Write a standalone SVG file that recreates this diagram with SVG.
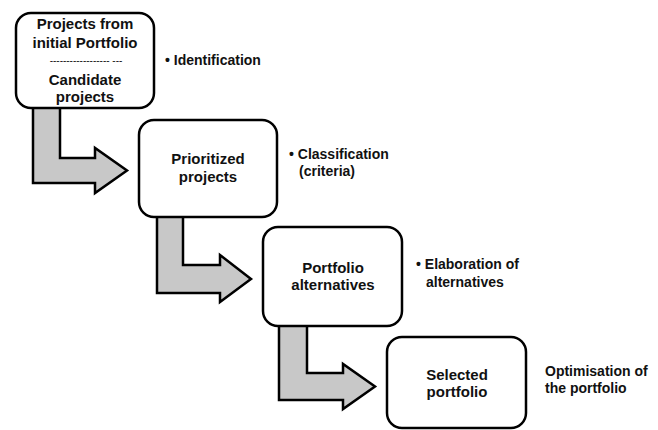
<svg xmlns="http://www.w3.org/2000/svg" width="658" height="430" viewBox="0 0 658 430">
  <style>
    .box { fill: #ffffff; stroke: #000000; stroke-width: 2.5; }
    .arrow { fill: #c8c8c8; stroke: #000000; stroke-width: 2.5; stroke-linejoin: miter; }
    .t { font-family: "Liberation Sans", Arial, sans-serif; font-weight: bold; font-size: 15px; fill: #111111; text-anchor: middle; }
    .s { font-family: "Liberation Sans", Arial, sans-serif; font-weight: bold; font-size: 14px; fill: #111111; }
    .dash { font-family: "Liberation Sans", Arial, sans-serif; font-size: 10px; fill: #111111; text-anchor: middle; }
  </style>
  <rect width="658" height="430" fill="#ffffff"/>
  <g id="connectors">
    <polygon class="arrow" points="33,107 60,107 60,158 95,158 95,148 127,170.5 95,193 95,183 33,183"/>
    <polygon class="arrow" points="157,216 183,216 183,265 220,265 220,255 251,279 220,302 220,293 157,293"/>
    <polygon class="arrow" points="279,325 307,325 307,373 343,373 343,364 375,386.5 343,409 343,400 279,400"/>
  </g>
  <g id="node-candidate">
    <rect class="box" x="16" y="13" width="138" height="95" rx="15" ry="15"/>
    <text class="t" x="85" y="29">Projects from</text>
    <text class="t" x="85" y="48">initial Portfolio</text>
    <text class="dash" x="86" y="64">------------------ ---</text>
    <text class="t" x="85" y="85">Candidate</text>
    <text class="t" x="85" y="102">projects</text>
  </g>
  <g id="node-prioritized">
    <rect class="box" x="139" y="120" width="138" height="97" rx="15" ry="15"/>
    <text class="t" x="208" y="164">Prioritized</text>
    <text class="t" x="208" y="182">projects</text>
  </g>
  <g id="node-alternatives">
    <rect class="box" x="263" y="227" width="139" height="99" rx="15" ry="15"/>
    <text class="t" x="333" y="273">Portfolio</text>
    <text class="t" x="333" y="290">alternatives</text>
  </g>
  <g id="node-selected">
    <rect class="box" x="387" y="337" width="139" height="91" rx="15" ry="15"/>
    <text class="t" x="457" y="380">Selected</text>
    <text class="t" x="457" y="397">portfolio</text>
  </g>
  <g id="labels">
    <text class="s" x="165" y="65">• Identification</text>
    <text class="s" x="289" y="159">• Classification</text>
    <text class="s" x="299" y="176">(criteria)</text>
    <text class="s" x="416" y="269">• Elaboration of</text>
    <text class="s" x="426" y="287">alternatives</text>
    <text class="s" x="545" y="376">Optimisation of</text>
    <text class="s" x="545" y="393">the portfolio</text>
  </g>
</svg>
